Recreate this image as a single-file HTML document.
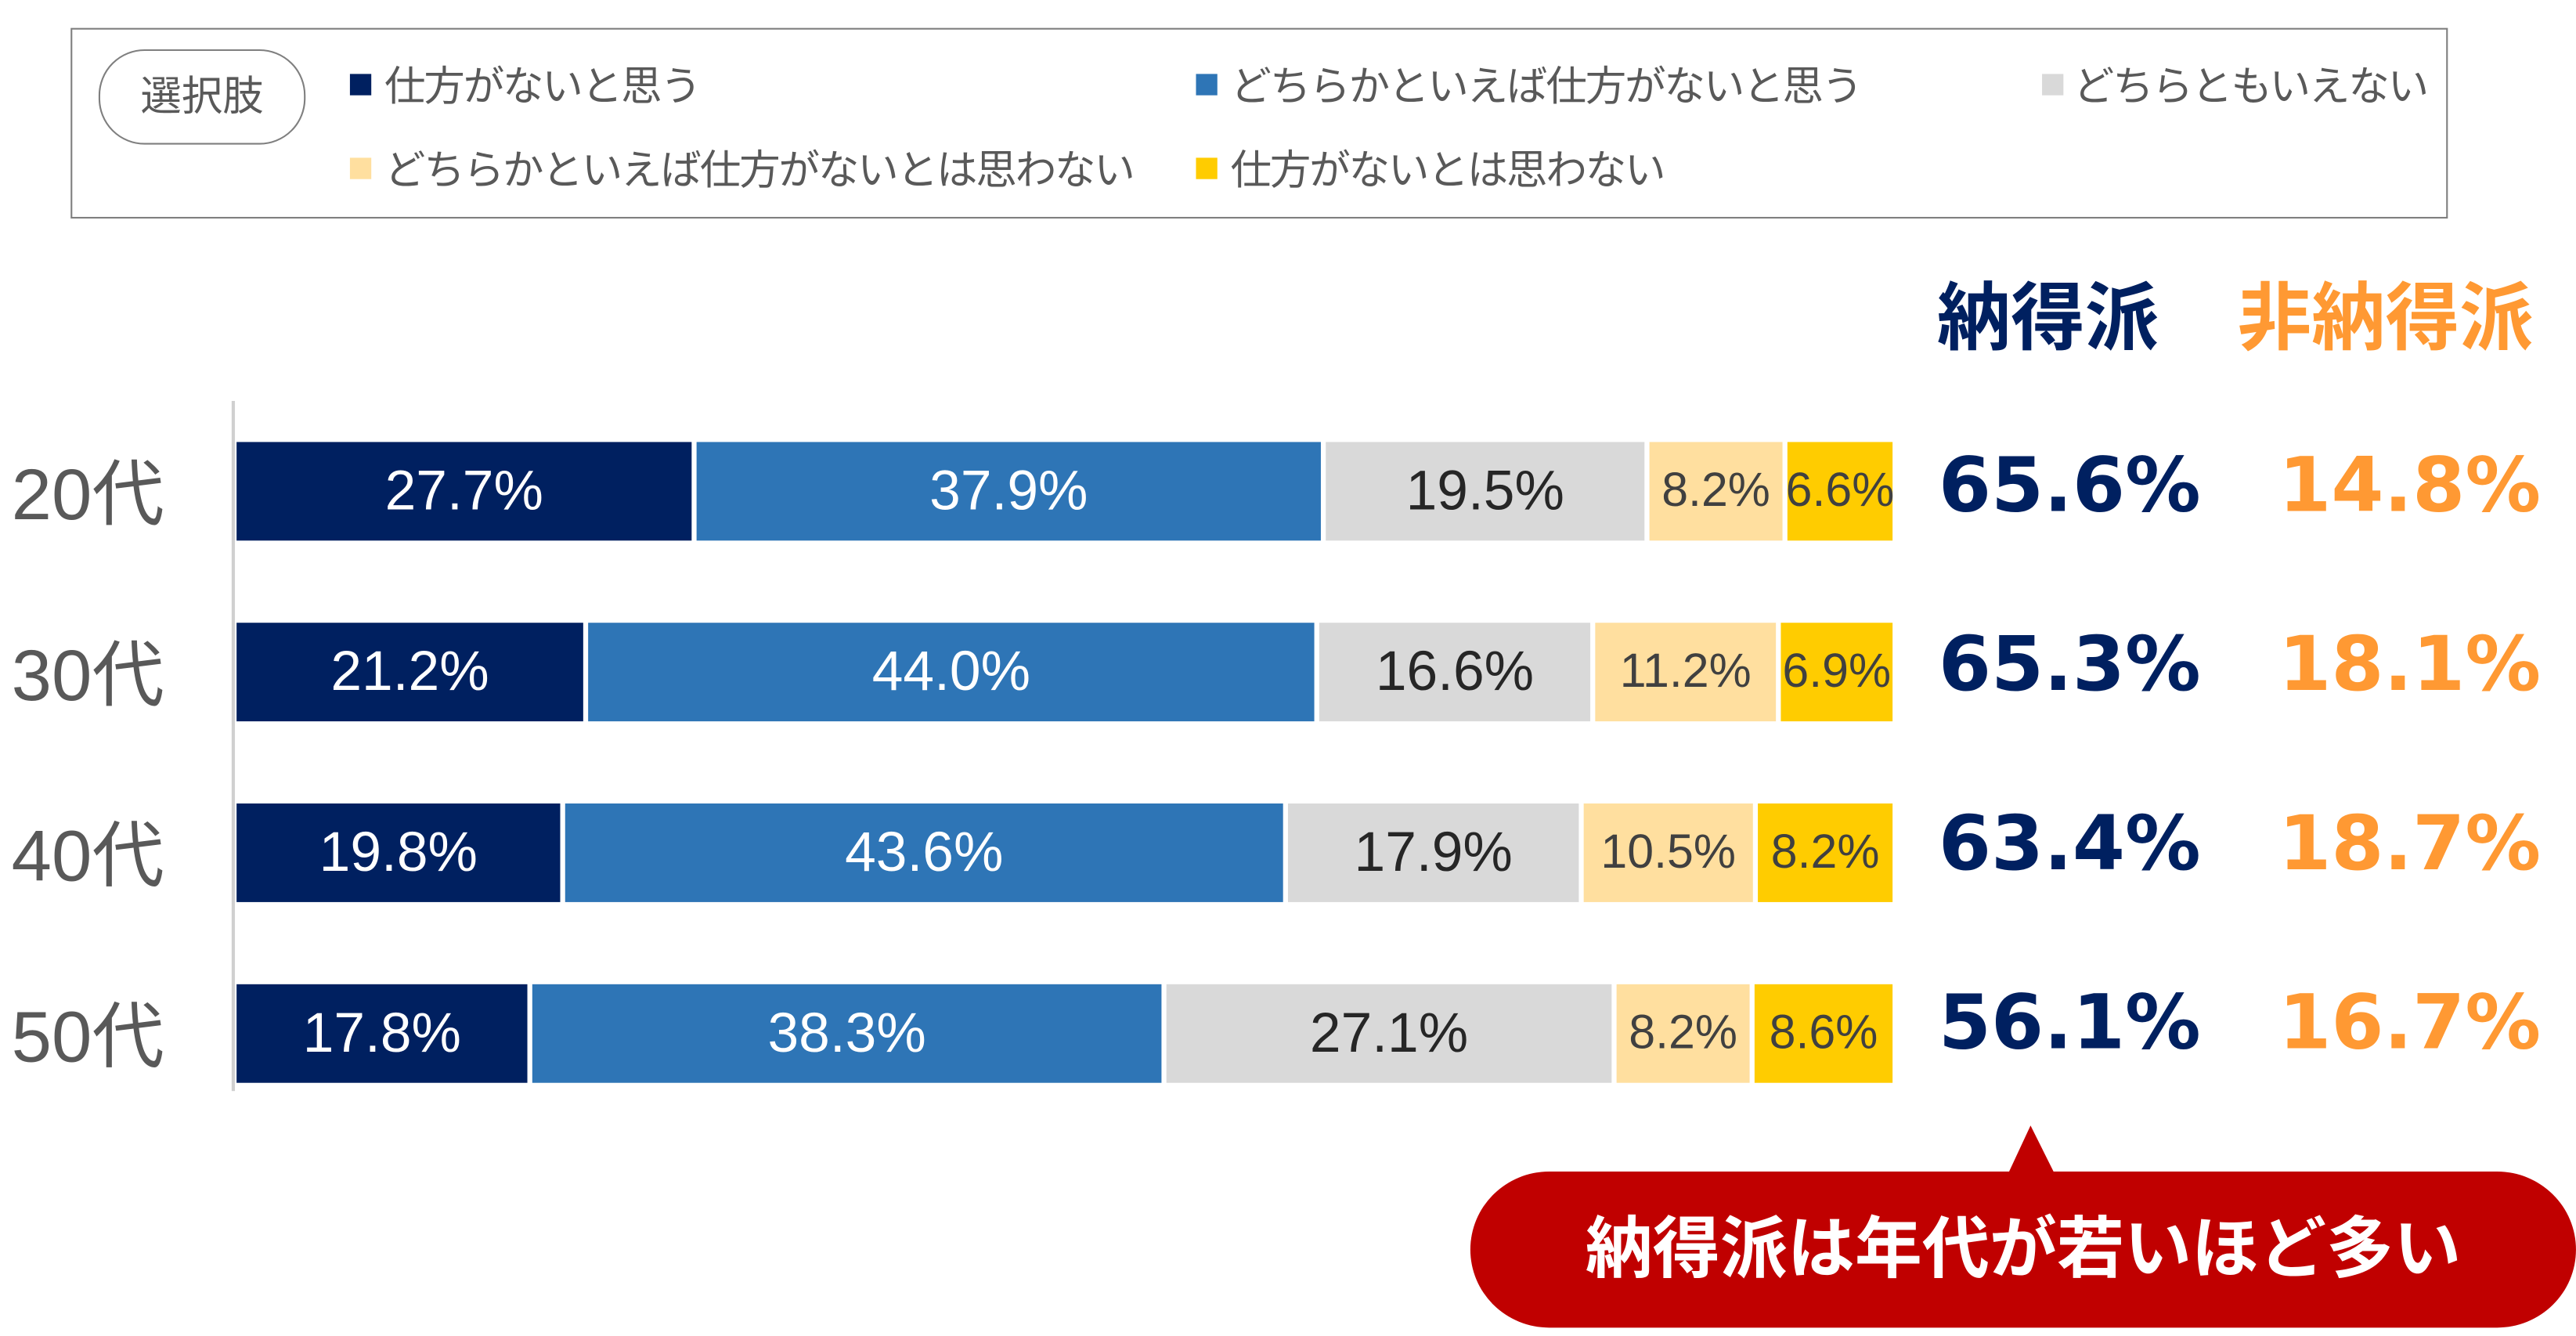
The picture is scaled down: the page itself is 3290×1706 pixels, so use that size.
<!DOCTYPE html>
<html><head><meta charset="utf-8"><style>
html,body{margin:0;padding:0;background:#fff;}
body{width:3290px;height:1706px;overflow:hidden;position:relative;}
#c{position:absolute;left:0;top:0;width:1568px;height:813px;transform:scale(2.0982);transform-origin:0 0;font-family:"Liberation Sans","Noto Sans CJK JP",sans-serif;}
.a{position:absolute;}
.leg{font-size:25px;color:#595959;white-space:nowrap;letter-spacing:-1px;}
.sq{position:absolute;width:13px;height:13px;}
.seg{position:absolute;height:60px;display:flex;align-items:center;justify-content:center;font-size:34px;white-space:nowrap;overflow:visible;}
.sm{font-size:29px;}
.w{color:#fff}.d{color:#262626}.d2{color:#404040}
.yl{font-size:44px;color:#595959;left:7px;}
.num{font-family:"DejaVu Sans","Noto Sans CJK JP",sans-serif;font-weight:bold;font-size:46px;white-space:nowrap;}
</style></head><body><div id="c">
<div class="a" style="left:43px;top:17px;width:1445px;height:114px;border:1.5px solid #7f7f7f;"></div>
<div class="a leg" style="left:60px;top:30px;width:124px;height:56px;border:1.5px solid #7f7f7f;border-radius:28px;text-align:center;line-height:56px;letter-spacing:0;">選択肢</div>
<div class="sq" style="left:213px;top:45px;background:#002060"></div><div class="a leg" style="left:234px;top:33px;">仕方がないと思う</div>
<div class="sq" style="left:728px;top:45px;background:#2e75b6"></div><div class="a leg" style="left:749px;top:33px;">どちらかといえば仕方がないと思う</div>
<div class="sq" style="left:1243px;top:45px;background:#d9d9d9"></div><div class="a leg" style="left:1262px;top:33px;">どちらともいえない</div>
<div class="sq" style="left:213px;top:96px;background:#ffdf9f"></div><div class="a leg" style="left:234px;top:84px;">どちらかといえば仕方がないとは思わない</div>
<div class="sq" style="left:728px;top:96px;background:#ffcc00"></div><div class="a leg" style="left:749px;top:84px;">仕方がないとは思わない</div>

<div class="a" style="left:1179px;top:157px;font-size:45px;font-weight:bold;color:#002060;">納得派</div>
<div class="a" style="left:1362px;top:157px;font-size:45px;font-weight:bold;color:#ff9933;">非納得派</div>

<div class="a" style="left:141px;top:244px;width:2px;height:420px;background:#d0d0d0"></div>

<div class="a yl" style="top:265px">20代</div>
<div class="a yl" style="top:375px">30代</div>
<div class="a yl" style="top:485px">40代</div>
<div class="a yl" style="top:595px">50代</div>

<div class="seg w" style="top:269px;left:144px;width:277px;background:#002060">27.7%</div>
<div class="seg w" style="top:269px;left:424px;width:380px;background:#2e75b6">37.9%</div>
<div class="seg d" style="top:269px;left:807px;width:194px;background:#d9d9d9">19.5%</div>
<div class="seg d2 sm" style="top:269px;left:1004px;width:81px;background:#ffdf9f">8.2%</div>
<div class="seg d2 sm" style="top:269px;left:1088px;width:64px;background:#ffcc00">6.6%</div>

<div class="seg w" style="top:379px;left:144px;width:211px;background:#002060">21.2%</div>
<div class="seg w" style="top:379px;left:358px;width:442px;background:#2e75b6">44.0%</div>
<div class="seg d" style="top:379px;left:803px;width:165px;background:#d9d9d9">16.6%</div>
<div class="seg d2 sm" style="top:379px;left:971px;width:110px;background:#ffdf9f">11.2%</div>
<div class="seg d2 sm" style="top:379px;left:1084px;width:68px;background:#ffcc00">6.9%</div>

<div class="seg w" style="top:489px;left:144px;width:197px;background:#002060">19.8%</div>
<div class="seg w" style="top:489px;left:344px;width:437px;background:#2e75b6">43.6%</div>
<div class="seg d" style="top:489px;left:784px;width:177px;background:#d9d9d9">17.9%</div>
<div class="seg d2 sm" style="top:489px;left:964px;width:103px;background:#ffdf9f">10.5%</div>
<div class="seg d2 sm" style="top:489px;left:1070px;width:82px;background:#ffcc00">8.2%</div>

<div class="seg w" style="top:599px;left:144px;width:177px;background:#002060">17.8%</div>
<div class="seg w" style="top:599px;left:324px;width:383px;background:#2e75b6">38.3%</div>
<div class="seg d" style="top:599px;left:710px;width:271px;background:#d9d9d9">27.1%</div>
<div class="seg d2 sm" style="top:599px;left:984px;width:81px;background:#ffdf9f">8.2%</div>
<div class="seg d2 sm" style="top:599px;left:1068px;width:84px;background:#ffcc00">8.6%</div>

<div class="a num" style="left:1180px;top:268px;color:#002060">65.6%</div>
<div class="a num" style="left:1387px;top:268px;color:#ff9933">14.8%</div>
<div class="a num" style="left:1180px;top:377px;color:#002060">65.3%</div>
<div class="a num" style="left:1387px;top:377px;color:#ff9933">18.1%</div>
<div class="a num" style="left:1180px;top:486px;color:#002060">63.4%</div>
<div class="a num" style="left:1387px;top:486px;color:#ff9933">18.7%</div>
<div class="a num" style="left:1180px;top:595px;color:#002060">56.1%</div>
<div class="a num" style="left:1387px;top:595px;color:#ff9933">16.7%</div>

<svg class="a" style="left:0;top:0" width="1568" height="813">
<polygon points="1236,685 1222,715 1251,715" fill="#c00000"/>
<rect x="895" y="713" width="673" height="95" rx="48" ry="48" fill="#c00000"/>
</svg>
<div class="a" style="left:895px;top:713px;width:673px;height:95px;line-height:95px;text-align:center;color:#fff;font-weight:bold;font-size:41px;white-space:nowrap;">納得派は年代が若いほど多い</div>
</div></body></html>
